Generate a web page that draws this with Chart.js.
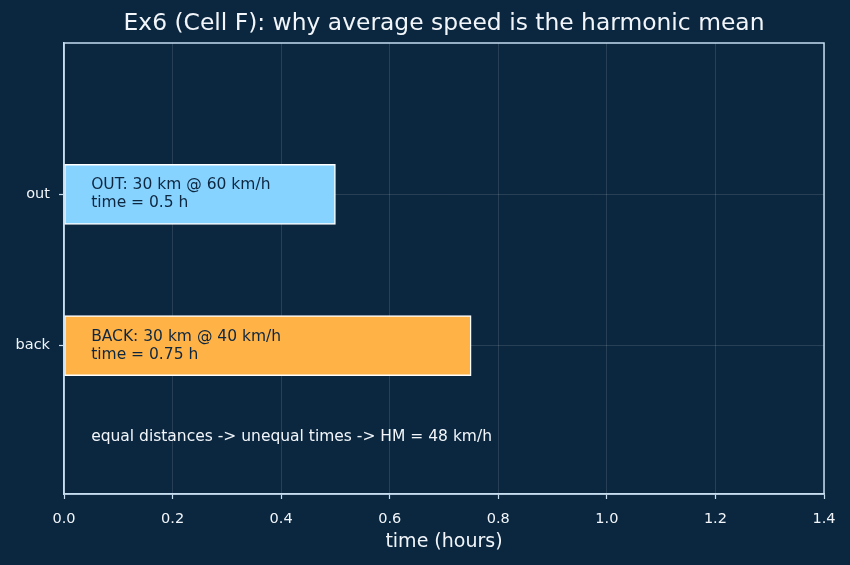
<!DOCTYPE html>
<html>
<head>
<meta charset="utf-8">
<script src="https://cdn.jsdelivr.net/npm/chart.js@4"></script>
<style>
  html, body { margin: 0; padding: 0; background: #0b2740; }
  #wrap { width: 850px; height: 565px; }
</style>
</head>
<body>
<div id="wrap"><canvas id="myChart" width="850" height="565"></canvas></div>
<script>
// legs of the trip: y position, time in hours
const legs = ["back", "out"];
const legPos = [0, 1];
const legTimes = [0.75, 0.5];
const legColors = ["#ffb347", "#87d3ff"];
const legNotes = [
    ["BACK: 30 km @ 40 km/h", "time = 0.75 h"],
    ["OUT: 30 km @ 60 km/h", "time = 0.5 h"],
];
const noteX = 0.05;
const footNote = "equal distances -> unequal times -> HM = 48 km/h";
const footNoteY = -0.6;
const xTicks = [0, 0.2, 0.4, 0.6, 0.8, 1.0, 1.2, 1.4];
const titleText = "Ex6 (Cell F): why average speed is the harmonic mean";

const FONT = "'DejaVu Sans', sans-serif";
const BG = "#0b2740";
const SPINE = "#c6ddef";
const TEXT = "#f2f6fa";
const GRID = "rgba(255,255,255,0.15)";

const bgPlugin = {
    id: "bg",
    beforeDraw(chart) {
        const c = chart.ctx;
        c.save();
        c.fillStyle = BG;
        c.fillRect(0, 0, chart.width, chart.height);
        c.restore();
    },
};

const notesPlugin = {
    id: "notes",
    afterDraw(chart) {
        const c = chart.ctx;
        const xs = chart.scales.x;
        const ys = chart.scales.y;
        const area = chart.chartArea;
        c.save();
        // frame on all four sides
        c.strokeStyle = SPINE;
        c.lineWidth = 1.5;
        c.strokeRect(area.left, area.top, area.right - area.left, area.bottom - area.top);

        // title centred over the plot area
        c.font = "23.4px " + FONT;
        c.textAlign = "center";
        c.textBaseline = "middle";
        c.fillStyle = TEXT;
        c.fillText(titleText, (area.left + area.right) / 2, 24);

        c.font = "15.5px " + FONT;
        c.textAlign = "left";
        c.fillStyle = "#0e2740";
        legNotes.forEach((lines, i) => {
            const px = xs.getPixelForValue(noteX);
            const py = ys.getPixelForValue(legPos[i]);
            c.fillText(lines[0], px, py - 9);
            c.fillText(lines[1], px, py + 9);
        });
        c.fillStyle = TEXT;
        c.fillText(footNote, xs.getPixelForValue(noteX), ys.getPixelForValue(footNoteY));
        c.restore();
    },
};

new Chart(document.getElementById("myChart"), {
    type: "bar",
    data: {
        datasets: [
            {
                label: "time",
                data: legTimes.map((t, i) => ({ x: t, y: legPos[i] })),
                backgroundColor: legColors,
                borderColor: "#ffffff",
                borderWidth: 1.5,
                borderSkipped: false,
                barThickness: 60,
            },
        ],
    },
    options: {
        indexAxis: "y",
        responsive: false,
        animation: false,
        devicePixelRatio: 1,
        layout: { padding: { top: 43, right: 26, left: 0, bottom: 0 } },
        plugins: {
            legend: { display: false },
            tooltip: { enabled: false },
            title: { display: false },
        },
        scales: {
            x: {
                type: "linear",
                min: 0,
                max: 1.4,
                z: 1,
                afterBuildTicks(scale) {
                    scale.ticks = xTicks.map((v) => ({ value: v }));
                },
                afterFit(scale) {
                    scale.height = 71;
                },
                ticks: {
                    color: TEXT,
                    font: { family: FONT, size: 14.5 },
                    padding: 12,
                    maxRotation: 0,
                    callback: (v) => v.toFixed(1),
                },
                grid: {
                    color: GRID,
                    lineWidth: 0.8,
                    tickColor: SPINE,
                    tickLength: 5,
                    tickWidth: 1.2,
                },
                border: { color: SPINE, width: 1.5 },
                title: {
                    display: true,
                    text: "time (hours)",
                    color: TEXT,
                    font: { family: FONT, size: 19 },
                    padding: { top: 0, bottom: 12 },
                },
            },
            y: {
                type: "linear",
                min: -0.98,
                max: 2,
                offset: false,
                z: 1,
                afterBuildTicks(scale) {
                    scale.ticks = legPos.map((v) => ({ value: v }));
                },
                afterFit(scale) {
                    scale.width = 64;
                },
                ticks: {
                    color: TEXT,
                    font: { family: FONT, size: 14.5 },
                    padding: 9,
                    callback: (v) => legs[legPos.indexOf(v)],
                },
                grid: {
                    offset: false,
                    color: GRID,
                    lineWidth: 0.8,
                    tickColor: SPINE,
                    tickLength: 5,
                    tickWidth: 1.2,
                },
                border: { color: SPINE, width: 1.5 },
            },
        },
    },
    plugins: [bgPlugin, notesPlugin],
});
</script>
</body>
</html>
